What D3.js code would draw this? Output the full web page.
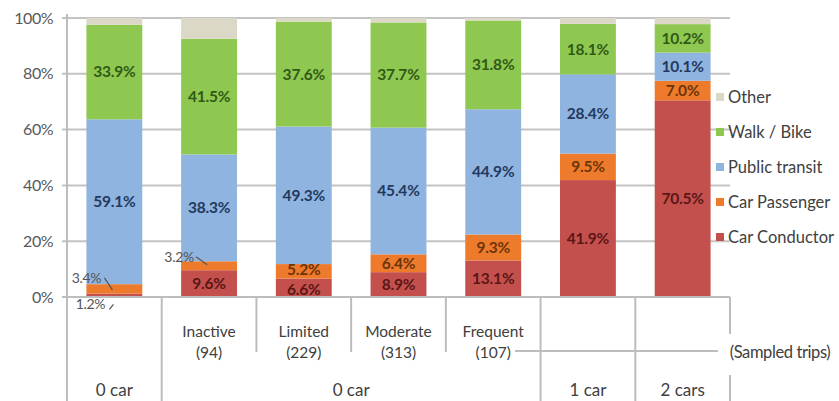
<!DOCTYPE html>
<html><head><meta charset="utf-8">
<script src="https://cdn.jsdelivr.net/npm/d3@7"></script>
<style>
html,body{margin:0;padding:0;background:#fff;}
svg{display:block;font-family:Lato,"Open Sans",sans-serif;}
</style></head>
<body><svg id="c" width="839" height="401"></svg>
<script>
const categories = ["0 car", "Inactive", "Limited", "Moderate", "Frequent", "1 car", "2 cars"];
const activityLabels = ["", "Inactive", "Limited", "Moderate", "Frequent", "", ""];
const sampledTrips = ["", "(94)", "(229)", "(313)", "(107)", "", ""];
const seriesNames = ["Car Conductor", "Car Passenger", "Public transit", "Walk / Bike", "Other"];
const carConductor = [1.2, 9.6, 6.6, 8.9, 13.1, 41.9, 70.5];
const carPassenger = [3.4, 3.2, 5.2, 6.4, 9.3, 9.5, 7.0];
const publicTransit = [59.1, 38.3, 49.3, 45.4, 44.9, 28.4, 10.1];
const walkBike = [33.9, 41.5, 37.6, 37.7, 31.8, 18.1, 10.2];
const other = [2.4, 7.4, 1.3, 1.6, 0.9, 2.1, 2.2];
const yTicks = [0, 20, 40, 60, 80, 100];
const carGroups = [{label:"0 car", from:0, to:0}, {label:"0 car", from:1, to:4}, {label:"1 car", from:5, to:5}, {label:"2 cars", from:6, to:6}];

const series = [carConductor, carPassenger, publicTransit, walkBike, other];
const fills = ["#c4504d", "#ee7a2c", "#8fb4e0", "#8fc850", "#dcd8c8"];
const textCols = ["#5a1616", "#6e3408", "#23395d", "#2f5a16", "#444"];

const svg = d3.select("#c");
const x = d3.scaleBand().domain(categories.map((c,i)=>i)).range([67, 730]).paddingInner(0.41).paddingOuter(0.205);
const y = d3.scaleLinear().domain([0, 100]).range([297, 18]);

// gridlines
svg.append("g").selectAll("line").data(yTicks.filter(t=>t>0)).join("line")
  .attr("x1", 62).attr("x2", 730).attr("y1", d=>y(d)).attr("y2", d=>y(d))
  .attr("stroke", "#c3c3c3").attr("stroke-width", 2);
// y tick labels
svg.append("g").selectAll("text").data(yTicks).join("text")
  .attr("x", 53).attr("y", d=>y(d)).attr("dy", "0.35em").attr("text-anchor", "end")
  .attr("font-size", 16).attr("letter-spacing", "-0.5").attr("fill", "#595959").text(d=>d+"%");

// stacked bars
const stackData = categories.map((c,i)=>{ const o={i}; seriesNames.forEach((s,k)=>o[s]=series[k][i]); return o; });
const stacked = d3.stack().keys(seriesNames)(stackData);
stacked.forEach((layer,k)=>{
  svg.append("g").selectAll("rect").data(layer).join("rect")
    .attr("x", d=>x(d.data.i)).attr("width", x.bandwidth())
    .attr("y", d=>y(d[1])).attr("height", d=>y(d[0])-y(d[1]))
    .attr("fill", fills[k]);
});

// axis lines
svg.append("line").attr("x1", 67).attr("x2", 67).attr("y1", 14).attr("y2", 401).attr("stroke", "#bdbdbd").attr("stroke-width", 2);
svg.append("line").attr("x1", 62).attr("x2", 730).attr("y1", y(0)).attr("y2", y(0)).attr("stroke", "#bdbdbd").attr("stroke-width", 2);

// data labels (some placed outside the bar with a leader line)
const outside = {
  "0-0": {tx:4, dy:9, l:[23, 5, 27, 0]},
  "0-1": {tx:0, dy:-11, l:[18, 0, 26, 12]},
  "1-1": {tx:-2, dy:-9, l:[15, 0, 26, 8]}
};
const nudge = {"2-0": 2, "2-1": -2};
stacked.forEach((layer,k)=>{
  if (k===4) return;
  layer.forEach(d=>{
    const i = d.data.i;
    const cx = x(i) + x.bandwidth()/2;
    const cy = y((d[0]+d[1])/2);
    const key = i+"-"+k;
    const v = series[k][i].toFixed(1)+"%";
    if (outside[key]) {
      const o = outside[key];
      const tx = x(i) + o.tx, ty = cy + o.dy;
      svg.append("text").attr("x", tx).attr("y", ty).attr("dy","0.35em").attr("text-anchor","middle")
        .attr("font-size", 14).attr("letter-spacing", "-0.3").attr("fill", "#555").text(v);
      svg.append("line").attr("x1", x(i)+o.l[0]).attr("y1", ty+o.l[1]).attr("x2", x(i)+o.l[2]).attr("y2", ty+o.l[3])
        .attr("stroke", "#555").attr("stroke-width", 1.2);
    } else {
      svg.append("text").attr("x", cx).attr("y", cy + (nudge[key]||0)).attr("dy","0.35em").attr("text-anchor","middle")
        .attr("font-size", 15.5).attr("font-weight", "bold").attr("letter-spacing", "-0.2").attr("fill", textCols[k]).text(v);
    }
  });
});

// legend
const legendItems = seriesNames.slice().reverse();
const lg = svg.append("g");
legendItems.forEach((s,j)=>{
  const k = seriesNames.indexOf(s);
  const ly = 97 + j*35;
  lg.append("rect").attr("x", 716).attr("y", ly-4).attr("width", 8).attr("height", 8).attr("fill", fills[k]);
  lg.append("text").attr("x", 728).attr("y", ly).attr("dy","0.35em").attr("font-size", 16.5).attr("fill", "#404040").text(s);
});

// bottom table
const bound = i => 67 + (730-67)/categories.length * i;
const vlines = [
  {i:0, y1:297, y2:401}, {i:1, y1:297, y2:401}, {i:2, y1:297, y2:352}, {i:3, y1:297, y2:352},
  {i:4, y1:297, y2:352}, {i:5, y1:297, y2:401}, {i:6, y1:297, y2:401}, {i:7, y1:297, y2:334}, {i:7, y1:375, y2:401}
];
svg.append("g").selectAll("line").data(vlines).join("line")
  .attr("x1", d=>bound(d.i)).attr("x2", d=>bound(d.i)).attr("y1", d=>d.y1).attr("y2", d=>d.y2)
  .attr("stroke", "#bdbdbd").attr("stroke-width", 2);
svg.append("line").attr("x1", 515).attr("x2", 718).attr("y1", 351).attr("y2", 351).attr("stroke", "#bdbdbd").attr("stroke-width", 2);

const tt = svg.append("g").attr("font-size", 17).attr("fill", "#404040").attr("text-anchor", "middle");
categories.forEach((c,i)=>{
  const cx = x(i) + x.bandwidth()/2;
  if (activityLabels[i]) {
    tt.append("text").attr("x", cx).attr("y", 332).attr("dy","0.35em").attr("font-size", 15.5).text(activityLabels[i]);
    tt.append("text").attr("x", cx).attr("y", 353).attr("dy","0.35em").attr("font-size", 15.5).text(sampledTrips[i]);
  }
});
tt.append("text").attr("x", 780).attr("y", 352).attr("dy","0.35em").attr("font-size", 16.5).attr("letter-spacing", "-0.4").text("(Sampled trips)");
carGroups.forEach(g=>{
  const cx = (bound(g.from) + bound(g.to+1))/2;
  tt.append("text").attr("x", cx).attr("y", 390).attr("dy","0.35em").text(g.label);
});
</script></body></html>
